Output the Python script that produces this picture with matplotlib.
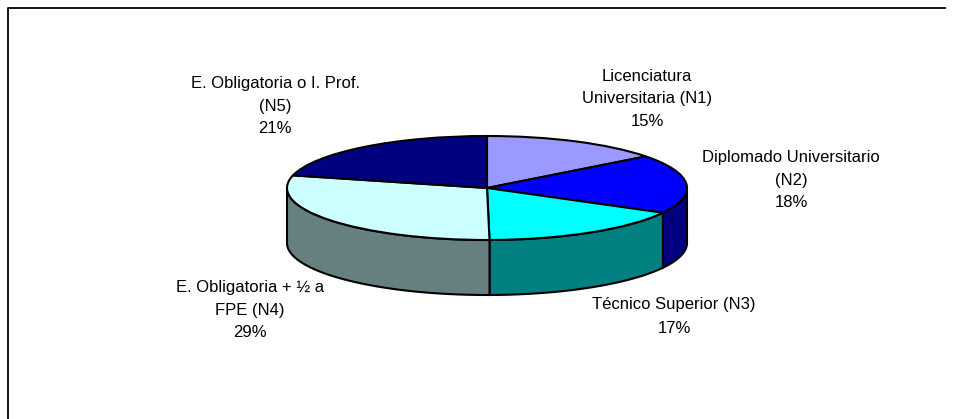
import numpy as np
import matplotlib
matplotlib.use("Agg")
import matplotlib.pyplot as plt
from matplotlib.patches import Polygon

labels = ["Licenciatura\nUniversitaria (N1)", "Diplomado Universitario\n(N2)", "Técnico Superior (N3)",
          "E. Obligatoria + ½ a\nFPE (N4)", "E. Obligatoria o I. Prof.\n(N5)"]
values = [14.6, 18.3, 16.9, 29.1, 21.1]
top_colors = ["#9999FF", "#0000FF", "#00FFFF", "#CCFFFF", "#000080"]
side_colors = ["#4D4D80", "#000080", "#008080", "#668080", "#000040"]

W, H = 955, 419
RX, RY, DEPTH = 200, 52, 55
CX, CY = 487, 188

plt.rcParams["font.family"] = "Liberation Sans"
fig = plt.figure(figsize=(W / 100, H / 100), dpi=100)
ax = fig.add_axes([0, 0, 1, 1])
ax.pie(values, colors=top_colors, startangle=90, counterclock=False, radius=1,
       wedgeprops=dict(edgecolor="black", linewidth=1.5))
ax.set_aspect("auto")
ax.set_xlim(-CX / RX, (W - CX) / RX)
ax.set_ylim(-(H - CY) / RY, CY / RY)
ax.axis("off")

depth = DEPTH / RY
start = 90.0
for v, c in zip(values, side_colors):
    end = start - v * 3.6
    lo, hi = max(end, -180.0), min(start, 0.0)
    if hi > lo:
        t = np.radians(np.linspace(hi, lo, 80))
        x, y = np.cos(t), np.sin(t)
        pts = np.column_stack([np.r_[x, x[::-1]], np.r_[y, y[::-1] - depth]])
        ax.add_patch(Polygon(pts, closed=True, facecolor=c, edgecolor="black", linewidth=1.5, zorder=0.5))
    start = end

pcts = [f"{round(v)}%" for v in values]
pos = [(647, 99), (791, 180), (674, 316), (250, 310), (275, 106)]
gaps = [1.62, 1.62, 1.75, 1.62, 1.62]
for lab, pct, (px, py), g in zip(labels, pcts, pos, gaps):
    ax.text((px - CX) / RX, (CY - py) / RY, lab + "\n" + pct, ha="center", va="center",
            fontsize=12, linespacing=g, color="black")

# chart frame (open at the bottom and right as in the reference)
ax.plot([(8 - CX) / RX, (8 - CX) / RX, (945 - CX) / RX], [(CY - 419) / RY, (CY - 8) / RY, (CY - 8) / RY],
        color="black", lw=1.3, clip_on=False)

fig.savefig("out.png", dpi=100, facecolor="white")
